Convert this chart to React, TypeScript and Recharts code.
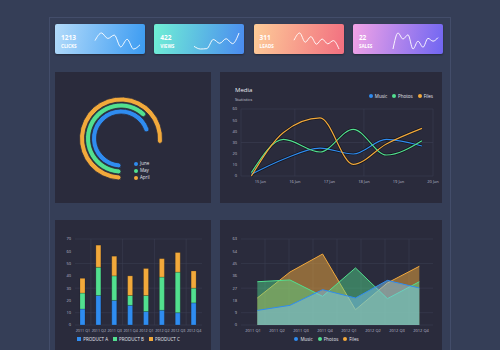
import React from 'react';
import {
  LineChart, Line, AreaChart, Area, BarChart, Bar, RadialBarChart, RadialBar,
  PolarAngleAxis, XAxis, YAxis, CartesianGrid, Legend,
} from 'recharts';

// summary cards
const cardValues = [1213, 422, 311, 22];
const cardLabels = ['CLICKS', 'VIEWS', 'LEADS', 'SALES'];
const cardGradients = [
  ['#b3dbfa', '#3b9bf2'],
  ['#70f0d5', '#4a8bf0'],
  ['#fdcc98', '#f26f80'],
  ['#f2a3e6', '#7066f2'],
];
const clicksTrend = [25, 43, 30, 38, 10, 28, 5, 15];
const viewsTrend = [10, 3, 4, 28, 18, 30, 17, 45];
const leadsTrend = [25, 43, 20, 34, 15, 28, 16, 24, 3];
const salesTrend = [0, 45, 28, 40, 0, 22, 5, 30, 22, 32];
const trends = [clicksTrend, viewsTrend, leadsTrend, salesTrend];

// radial progress
const months = ['June', 'May', 'April'];
const monthShare = [71, 63, 77];

// media statistics (line)
const mediaNames = ['Music', 'Photos', 'Files'];
const mediaDays = [14.74, 15.67, 16.73, 17.69, 18.65, 19.68];
const dayTicks = [15, 16, 17, 18, 19, 20];
const musicStats = [1.5, 15, 25, 19.7, 32.8, 26.9];
const photosStats = [3, 32.8, 21.5, 41.8, 18.8, 31.6];
const filesStats = [0, 39, 52, 10.4, 28.7, 42.7];

// products (stacked bars)
const productNames = ['PRODUCT A', 'PRODUCT B', 'PRODUCT C'];
const quarters = ['2011 Q1', '2011 Q2', '2011 Q3', '2011 Q4', '2012 Q1', '2012 Q2', '2012 Q3', '2012 Q4'];
const productA = [13, 24, 20, 16, 11, 12, 10, 18];
const productB = [13, 23, 20, 8, 13, 27, 33, 12];
const productC = [12, 18, 16, 16, 22, 15, 16, 14];

// media by quarter (area)
const quarterPos = [0.18, 1.54, 2.9, 4.27, 5.6, 6.93];
const musicQ = [10.7, 14.4, 25.9, 19.8, 32.7, 27.1];
const photosQ = [31.7, 33, 21, 41.8, 19.3, 31.7];
const filesQ = [19.8, 38.8, 52, 11.2, 30.8, 43];

const BLUE = '#2f8cf0';
const GREEN = '#52e08f';
const ORANGE = '#f2a93b';
const monthColors = [BLUE, GREEN, ORANGE];

const PANEL = '#2a2b3c';
const GRID = '#3b3e52';
const tick = { fontSize: 4, fill: '#b9bcca' };

const radialData = months.map((name, i) => ({ name, value: monthShare[i], fill: monthColors[i] }));
const lineData = mediaDays.map((x, i) => ({ x, music: musicStats[i], photos: photosStats[i], files: filesStats[i] }));
const barData = quarters.map((q, i) => ({ q, a: productA[i], b: productB[i], c: productC[i] }));
const areaData = quarterPos.map((x, i) => ({ x, music: musicQ[i], photos: photosQ[i], files: filesQ[i] }));

function LegendRow({ payload, shape, justify, order }: any) {
  const items = (payload || [])
    .filter((p: any) => p.type !== 'none' && order.includes(p.value))
    .sort((a: any, b: any) => order.indexOf(a.value) - order.indexOf(b.value));
  return (
    <div style={{ display: 'flex', justifyContent: justify, gap: 5, fontSize: 4.5, lineHeight: '6px', color: '#e4e6ee' }}>
      {items.map((p: any) => (
        <span key={p.value} style={{ display: 'flex', alignItems: 'center' }}>
          <i style={{ width: 4, height: 4, marginRight: 2, background: p.color, borderRadius: shape === 'circle' ? '50%' : 0 }} />
          {p.value}
        </span>
      ))}
    </div>
  );
}

function Card({ i }: { i: number }) {
  const data = trends[i].map((v) => ({ v }));
  return (
    <div style={{
      position: 'absolute', left: 55 + i * 99.3, top: 24, width: 90, height: 30, borderRadius: 2,
      background: `linear-gradient(100deg, ${cardGradients[i][0]}, ${cardGradients[i][1]})`,
      boxShadow: '0 1px 2px rgba(0,0,0,0.35)', color: '#fff',
    }}>
      <div style={{ position: 'absolute', left: 6, top: 10, fontSize: 6.5, fontWeight: 700, lineHeight: '7px' }}>{cardValues[i]}</div>
      <div style={{ position: 'absolute', left: 6, top: 20, fontSize: 4.6, fontWeight: 700, lineHeight: '5px' }}>{cardLabels[i]}</div>
      <div style={{ position: 'absolute', left: 39, top: 8 }}>
        <LineChart width={47} height={18} data={data} margin={{ top: 1, right: 1, bottom: 1, left: 1 }}>
          <XAxis hide />
          <YAxis hide domain={['dataMin', 'dataMax']} />
          <Line type="monotone" dataKey="v" stroke="rgba(255,255,255,0.92)" strokeWidth={1} dot={false} isAnimationActive={false} />
        </LineChart>
      </div>
    </div>
  );
}

export default function App() {
  return (
    <div style={{ position: 'absolute', left: 0, top: 0, width: 500, height: 350, overflow: 'hidden', background: '#353e57', fontFamily: '"Open Sans", sans-serif' }}>
      <div style={{ position: 'absolute', left: 49, top: 17, width: 402, height: 340, boxSizing: 'border-box', borderTop: '1px solid #434d6a', borderLeft: '1px solid #434d6a', borderRight: '1px solid #434d6a' }} />
      {cardValues.map((_, i) => <Card key={i} i={i} />)}

      {/* radial progress */}
      <div style={{ position: 'absolute', left: 55, top: 72, width: 156, height: 131, background: PANEL }}>
        <RadialBarChart width={156} height={131} cx={66} cy={66.5} innerRadius={23.5} outerRadius={41.5}
          barSize={5} startAngle={270} endAngle={-90} data={radialData} margin={{ top: 0, right: 0, bottom: 0, left: 0 }}>
          <PolarAngleAxis type="number" domain={[0, 100]} tick={false} axisLine={false} />
          <RadialBar dataKey="value" cornerRadius={2.5} stroke={PANEL} strokeWidth={0.8} isAnimationActive={false} />
        </RadialBarChart>
        <div style={{ position: 'absolute', left: 79, top: 88, fontSize: 4.5, lineHeight: '7px', color: '#e4e6ee' }}>
          {months.map((m, i) => (
            <div key={m} style={{ display: 'flex', alignItems: 'center' }}>
              <i style={{ width: 4, height: 4, borderRadius: '50%', background: monthColors[i], marginRight: 2 }} />
              {m}
            </div>
          ))}
        </div>
      </div>

      {/* media statistics */}
      <div style={{ position: 'absolute', left: 220, top: 72, width: 222, height: 131, background: PANEL }}>
        <div style={{ position: 'absolute', left: 15, top: 15, fontSize: 6, color: '#e8eaf2', lineHeight: '7px' }}>Media</div>
        <div style={{ position: 'absolute', left: 15, top: 25, fontSize: 4.2, color: '#c8cad6', lineHeight: '5px' }}>Statistics</div>
        <LineChart width={222} height={131} data={lineData} margin={{ top: 21, right: 9, bottom: 14, left: 0 }}>
          <CartesianGrid stroke={GRID} strokeWidth={0.6} />
          <XAxis dataKey="x" type="number" domain={[14.44, 20]} ticks={dayTicks} tickFormatter={(v) => `${v} Jan`}
            tick={tick} axisLine={false} tickLine={false} tickSize={2} tickMargin={2} height={13} />
          <YAxis domain={[0, 60]} ticks={[0, 10, 20, 30, 40, 50, 60]} tick={tick} axisLine={false} tickLine={false}
            tickSize={2} tickMargin={2} width={21} />
          <Legend verticalAlign="top" align="right" wrapperStyle={{ height: 16 }}
            content={(p: any) => <LegendRow {...p} shape="circle" justify="flex-end" order={mediaNames} />} />
          <Line type="monotone" dataKey="music" stroke="#15161f" strokeWidth={2.6} dot={false} legendType="none" isAnimationActive={false} />
          <Line type="monotone" dataKey="photos" stroke="#15161f" strokeWidth={2.6} dot={false} legendType="none" isAnimationActive={false} />
          <Line type="monotone" dataKey="files" stroke="#15161f" strokeWidth={2.6} dot={false} legendType="none" isAnimationActive={false} />
          <Line type="monotone" dataKey="music" name="Music" stroke={BLUE} strokeWidth={1.2} dot={false} isAnimationActive={false} />
          <Line type="monotone" dataKey="photos" name="Photos" stroke={GREEN} strokeWidth={1.2} dot={false} isAnimationActive={false} />
          <Line type="monotone" dataKey="files" name="Files" stroke={ORANGE} strokeWidth={1.2} dot={false} isAnimationActive={false} />
        </LineChart>
      </div>

      {/* products */}
      <div style={{ position: 'absolute', left: 55, top: 220, width: 156, height: 130, background: PANEL }}>
        <BarChart width={156} height={130} data={barData} margin={{ top: 19, right: 9, bottom: 8, left: 0 }}>
          <CartesianGrid stroke={GRID} strokeWidth={0.6}
            verticalCoordinatesGenerator={({ offset }: any) => [1, 3, 5, 7].map((k) => offset.left + (offset.width * k) / 8)} />
          <XAxis dataKey="q" interval={0} tick={{ ...tick, fontSize: 3.7 }} axisLine={false} tickLine={false} tickSize={2} tickMargin={2} height={11} />
          <YAxis domain={[0, 70]} ticks={[0, 10, 20, 30, 40, 50, 60, 70]} tick={tick} axisLine={false} tickLine={false}
            tickSize={2} tickMargin={2} width={20} />
          <Legend verticalAlign="bottom" wrapperStyle={{ height: 6 }}
            content={(p: any) => <LegendRow {...p} shape="square" justify="center" order={productNames} />} />
          <Bar dataKey="a" name="PRODUCT A" stackId="p" fill={BLUE} barSize={5} stroke="rgba(0,0,0,0.35)" strokeWidth={0.5} isAnimationActive={false} />
          <Bar dataKey="b" name="PRODUCT B" stackId="p" fill={GREEN} barSize={5} stroke="rgba(0,0,0,0.35)" strokeWidth={0.5} isAnimationActive={false} />
          <Bar dataKey="c" name="PRODUCT C" stackId="p" fill={ORANGE} barSize={5} stroke="rgba(0,0,0,0.35)" strokeWidth={0.5} isAnimationActive={false} />
        </BarChart>
      </div>

      {/* media by quarter */}
      <div style={{ position: 'absolute', left: 220, top: 220, width: 222, height: 130, background: PANEL }}>
        <AreaChart width={222} height={130} data={areaData} margin={{ top: 19, right: 9, bottom: 8, left: 0 }}>
          <CartesianGrid stroke={GRID} strokeWidth={0.6}
            verticalCoordinatesGenerator={({ offset }: any) => [1, 2, 3, 4, 5, 6, 7].map((k) => offset.left + (offset.width * k) / 8)} />
          <XAxis dataKey="x" type="number" domain={[-0.5, 7.5]} ticks={[0, 1, 2, 3, 4, 5, 6, 7]}
            tickFormatter={(v) => quarters[v]} tick={tick} axisLine={false} tickLine={false} tickSize={2} tickMargin={2} height={11} />
          <YAxis domain={[0, 63]} ticks={[0, 9, 18, 27, 36, 45, 54, 63]} tick={tick} axisLine={false} tickLine={false}
            tickSize={2} tickMargin={2} width={21} />
          <Legend verticalAlign="bottom" wrapperStyle={{ height: 6 }}
            content={(p: any) => <LegendRow {...p} shape="circle" justify="center" order={mediaNames} />} />
          <Area type="linear" dataKey="files" name="Files" stroke={ORANGE} strokeWidth={1} fill={ORANGE} fillOpacity={0.5} isAnimationActive={false} />
          <Area type="linear" dataKey="photos" name="Photos" stroke={GREEN} strokeWidth={1} fill={GREEN} fillOpacity={0.45} isAnimationActive={false} />
          <Area type="linear" dataKey="music" name="Music" stroke={BLUE} strokeWidth={1} fill="#7cc4ee" fillOpacity={0.5} isAnimationActive={false} />
        </AreaChart>
      </div>
    </div>
  );
}
